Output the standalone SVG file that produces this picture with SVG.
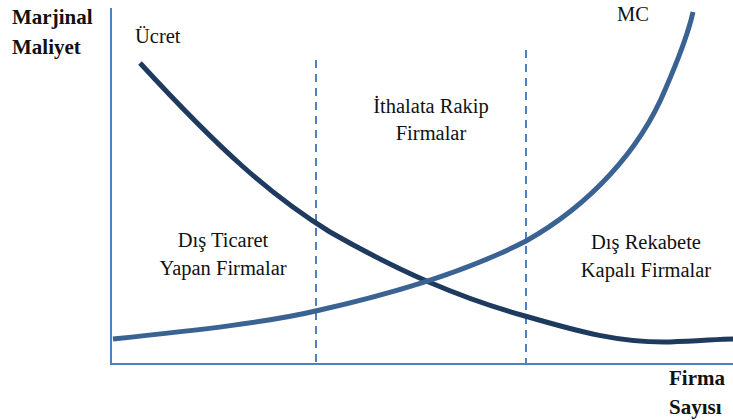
<svg xmlns="http://www.w3.org/2000/svg" width="733" height="420" viewBox="0 0 733 420">
<style>
.t{font-family:"Liberation Serif",serif;font-size:20.5px;fill:#111}
.b{font-family:"Liberation Serif",serif;font-size:21px;font-weight:bold;fill:#111}
.ax{stroke:#4f81bd;stroke-width:2;fill:none}
.dash{stroke:#4f81bd;stroke-width:2;stroke-dasharray:8,6;fill:none}
</style>
<rect width="733" height="420" fill="#fff"/>
<g id="axes">
<line class="ax" x1="111" y1="8" x2="111" y2="365"/>
<line class="ax" x1="111" y1="364" x2="733" y2="364"/>
</g>
<g id="connectors">
<line class="dash" x1="316" y1="60" x2="316" y2="364"/>
<line class="dash" x1="526" y1="50" x2="526" y2="364"/>
</g>
<g id="ucret-curve">
<path d="M140,63 C220,150 270,195 330,232 C400,272 460,298 525,316 C580,332 620,343 670,342 C700,341 720,339 733,339" stroke="#1f3a5f" stroke-width="5" fill="none"/>
</g>
<g id="mc-curve">
<path d="M113,339 C200,330 270,322 320,310 C400,292 470,270 526,241 C590,205 640,150 665,90 C678,60 688,35 693,12" stroke="#3a6394" stroke-width="5" fill="none"/>
</g>
<g id="labels">
<text class="b" x="12" y="24">Marjinal</text>
<text class="b" x="12" y="54">Maliyet</text>
<text class="t" x="135" y="43">Ücret</text>
<text class="t" x="617" y="21">MC</text>
<text class="t" x="431" y="113" text-anchor="middle">İthalata Rakip</text>
<text class="t" x="431" y="140" text-anchor="middle">Firmalar</text>
<text class="t" x="223" y="247" text-anchor="middle">Dış Ticaret</text>
<text class="t" x="223" y="275" text-anchor="middle">Yapan Firmalar</text>
<text class="t" x="646" y="249" text-anchor="middle">Dış Rekabete</text>
<text class="t" x="646" y="277" text-anchor="middle">Kapalı Firmalar</text>
<text class="b" x="669" y="385">Firma</text>
<text class="b" x="669" y="414">Sayısı</text>
</g>
</svg>
